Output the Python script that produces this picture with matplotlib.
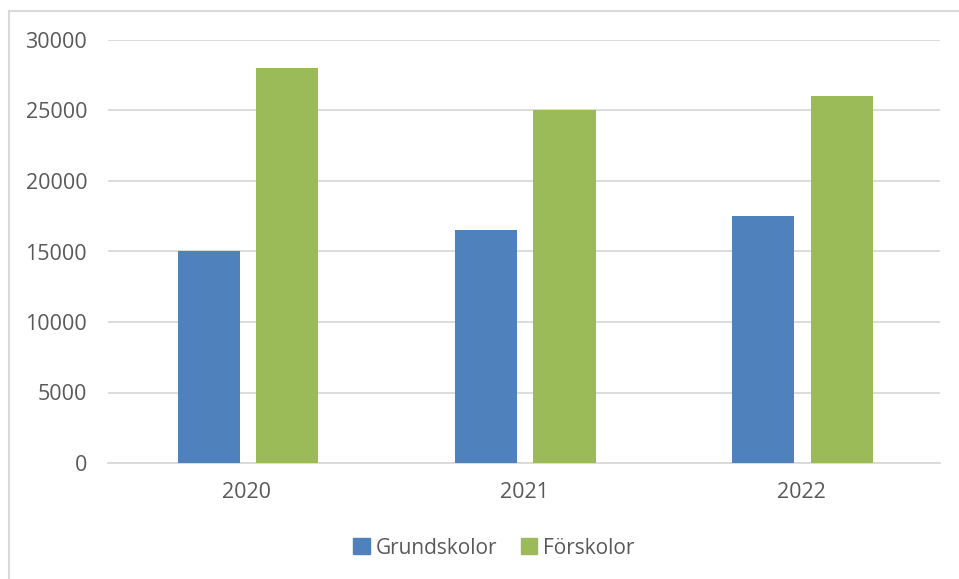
import matplotlib.pyplot as plt
from matplotlib.lines import Line2D
from matplotlib.patches import Patch
import numpy as np

years = ["2020", "2021", "2022"]
grundskolor = [15000, 16500, 17500]
forskolor = [28000, 25000, 26000]

BLUE = "#4F81BD"
GREEN = "#9BBB59"
GRID = "#D9D9D9"
TEXT = "#595959"

plt.rcParams["font.family"] = ["Open Sans", "DejaVu Sans"]

W, H = 959, 579
fig = plt.figure(figsize=(W / 100, H / 100), dpi=100)
ax = fig.add_axes([108 / W, (H - 463) / H, 832 / W, 423 / H])

x = np.arange(len(years))
bw = 0.224
ax.bar(x - 0.137, grundskolor, bw, color=BLUE, label="Grundskolor", zorder=3)
ax.bar(x + 0.146, forskolor, bw, color=GREEN, label="Förskolor", zorder=3)

ax.set_xlim(-0.5, 2.5)
ax.set_ylim(0, 30000)
ax.set_yticks(range(0, 30001, 5000))
ax.set_xticks(x)
ax.set_xticklabels(years)
ax.grid(axis="y", color=GRID, linewidth=1.3, zorder=0)
ax.tick_params(length=0, labelsize=15.5, colors=TEXT)
ax.tick_params(axis="y", pad=15)
ax.tick_params(axis="x", pad=14)
for s in ["top", "right", "left"]:
    ax.spines[s].set_visible(False)
ax.spines["bottom"].set_color(GRID)
ax.spines["bottom"].set_linewidth(1.3)

# chart area border (partly cropped in the reference)
fig.add_artist(Line2D([8.5 / W, 8.5 / W], [0, 1 - 10.5 / H], color=GRID, linewidth=1.5))
fig.add_artist(Line2D([8.5 / W, 1], [1 - 10.5 / H, 1 - 10.5 / H], color=GRID, linewidth=1.5))

handles = [Patch(color=BLUE), Patch(color=GREEN)]
fig.legend(handles, ["Grundskolor", "Förskolor"], loc="center",
           bbox_to_anchor=(494 / W, 1 - 548 / H), ncol=2, frameon=False,
           fontsize=15, labelcolor=TEXT, handlelength=0.8, handleheight=0.8,
           handletextpad=0.3, columnspacing=1.1)

fig.savefig("out.png", dpi=100, facecolor="white")
